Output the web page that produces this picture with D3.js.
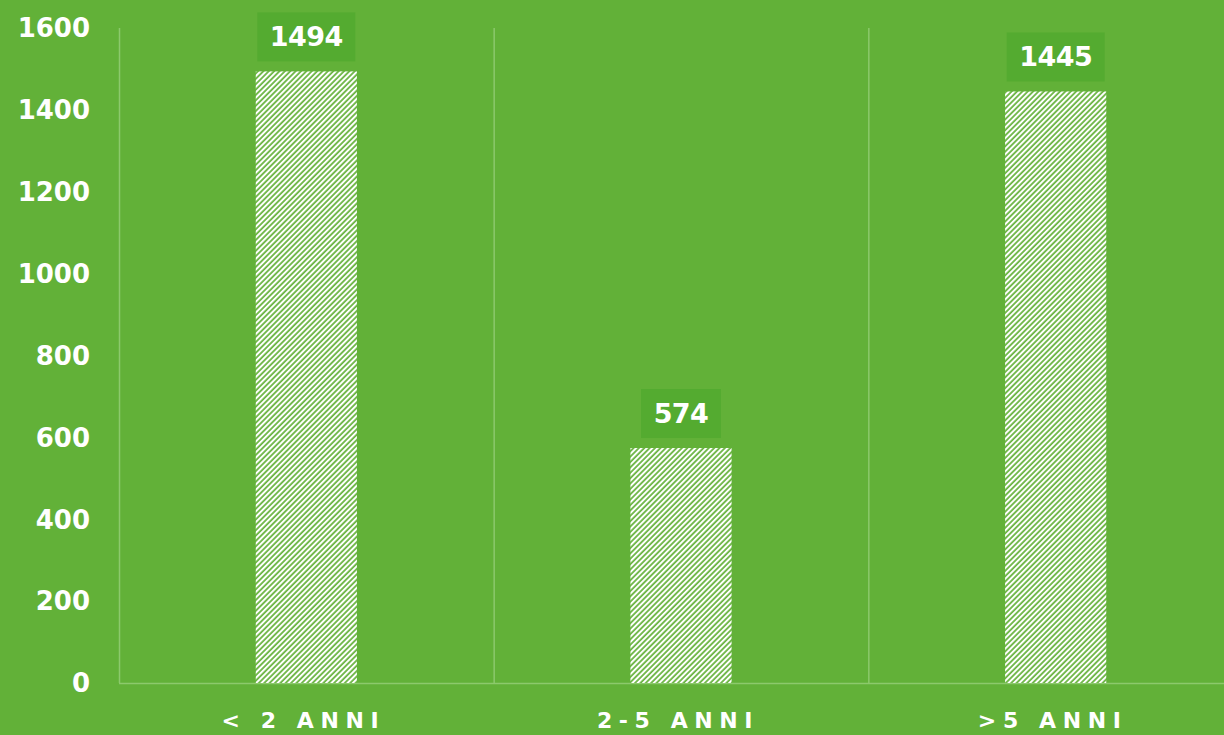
<!DOCTYPE html>
<html>
<head>
<meta charset="utf-8">
<script src="https://cdn.jsdelivr.net/npm/d3@7"></script>
<style>
  html, body { margin: 0; padding: 0; background: #62b138; }
  svg { display: block; }
</style>
</head>
<body>
<svg id="chart"></svg>
<script>
const categories = ['< 2 ANNI', '2-5 ANNI', '>5 ANNI'];
const values = [1494, 574, 1445];
const yTicks = [0, 200, 400, 600, 800, 1000, 1200, 1400, 1600];

const width = 1224, height = 735;
const plotLeft = 119, plotRight = 1243, plotTop = 28, plotBottom = 683;
const bg = '#62b138';
const font = 'DejaVu Sans, sans-serif';

const svg = d3.select('#chart').attr('width', width).attr('height', height);
svg.append('rect').attr('width', width).attr('height', height).attr('fill', bg);

// hatch for the bars
const defs = svg.append('defs');
const pat = defs.append('pattern')
  .attr('id', 'hatch')
  .attr('patternUnits', 'userSpaceOnUse')
  .attr('width', 3.8).attr('height', 3.8)
  .attr('patternTransform', 'rotate(45)');
pat.append('rect').attr('width', 3.8).attr('height', 3.8).attr('fill', '#ffffff');
pat.append('line')
  .attr('x1', 1).attr('y1', 0).attr('x2', 1).attr('y2', 3.8)
  .attr('stroke', bg).attr('stroke-width', 1.7);

const x = d3.scaleBand().domain(categories).range([plotLeft, plotRight]).paddingInner(0).paddingOuter(0);
const y = d3.scaleLinear().domain([0, 1600]).range([plotBottom, plotTop]);

const barW = x.bandwidth() * 0.27;

// category separators
svg.append('g').selectAll('line')
  .data(categories)
  .join('line')
  .attr('x1', d => x(d) + 0.5).attr('x2', d => x(d) + 0.5)
  .attr('y1', plotTop).attr('y2', plotBottom)
  .attr('stroke', '#8cc96c').attr('stroke-width', 1.5);

// baseline
svg.append('line')
  .attr('x1', plotLeft).attr('x2', width)
  .attr('y1', plotBottom + 0.5).attr('y2', plotBottom + 0.5)
  .attr('stroke', '#8cc96c').attr('stroke-width', 1.5);

// y tick labels
svg.append('g').selectAll('text')
  .data(yTicks)
  .join('text')
  .attr('x', 90)
  .attr('y', d => y(d))
  .attr('dy', '0.36em')
  .attr('text-anchor', 'end')
  .attr('fill', '#fff')
  .attr('font-family', font)
  .attr('font-weight', 700)
  .attr('font-size', 26)
  .text(d => d);

// bars
svg.append('g').selectAll('rect')
  .data(values)
  .join('rect')
  .attr('x', (d, i) => x(categories[i]) + x.bandwidth() / 2 - barW / 2)
  .attr('y', d => y(d))
  .attr('width', barW)
  .attr('height', d => plotBottom - y(d))
  .attr('fill', 'url(#hatch)');

// value labels
const lab = svg.append('g').selectAll('g')
  .data(values)
  .join('g')
  .attr('transform', (d, i) => `translate(${x(categories[i]) + x.bandwidth() / 2},${y(d) - 35})`);
lab.append('rect')
  .attr('x', d => String(d).length === 4 ? -49 : -40)
  .attr('y', -24)
  .attr('width', d => String(d).length === 4 ? 98 : 80)
  .attr('height', 49)
  .attr('fill', '#54ab30');
lab.append('text')
  .attr('text-anchor', 'middle')
  .attr('dy', '0.36em')
  .attr('fill', '#fff')
  .attr('font-family', font)
  .attr('font-weight', 700)
  .attr('font-size', 27)
  .attr('letter-spacing', '-0.02em')
  .text(d => d);

// x labels
svg.append('g').selectAll('text')
  .data(categories)
  .join('text')
  .attr('x', d => x(d) + x.bandwidth() / 2 - 3)
  .attr('y', 720)
  .attr('dy', '0.36em')
  .attr('text-anchor', 'middle')
  .attr('fill', '#fff')
  .attr('font-family', font)
  .attr('font-weight', 700)
  .attr('font-size', 22)
  .attr('letter-spacing', '0.3em')
  .text(d => d);
</script>
</body>
</html>
